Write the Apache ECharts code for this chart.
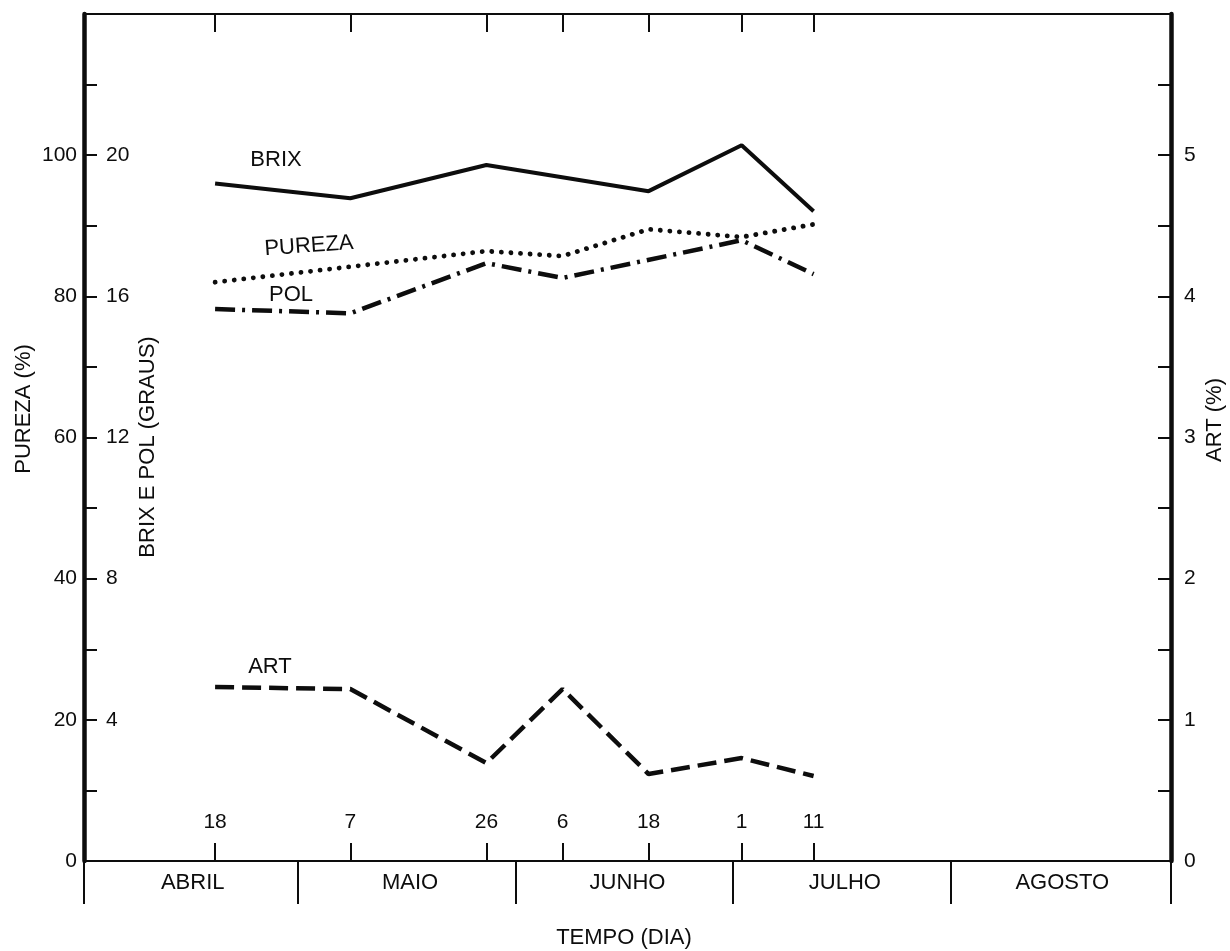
<!DOCTYPE html>
<html><head><meta charset="utf-8">
<script src="https://cdn.jsdelivr.net/npm/echarts@6/dist/echarts.min.js"></script>
<style>html,body{margin:0;padding:0;background:#fff}#c{width:1230px;height:951px}</style>
</head><body><div id="c"></div>
<script>
// ---- data ----
const months = ['ABRIL', 'MAIO', 'JUNHO', 'JULHO', 'AGOSTO'];
const monthBounds = [0, 0.985, 1.985, 2.985, 3.985, 5];
const monthCenters = [0.5, 1.5, 2.5, 3.5, 4.5];
const dayLabels = ['18', '7', '26', '6', '18', '1', '11'];
// sampling dates, in months elapsed since 1 April (as drawn)
const xPos = [0.603, 1.225, 1.851, 2.201, 2.597, 3.025, 3.356];
const brix   = [19.2, 18.78, 19.72, null, 18.98, 20.28, 18.41];   // graus
const pureza = [82.0, null, 86.4, 85.7, 89.5, 88.4, 90.2];         // %
const pol    = [15.64, 15.52, 16.94, 16.52, null, 17.59, 16.63];   // graus
const art    = [1.232, 1.218, 0.694, 1.218, 0.616, 0.729, 0.602];  // %

const FONT = '"Liberation Sans", Arial, sans-serif';
const FS = 21;
const FS2 = 22;
const INK = '#0d0d0d';

function pairs(vals) {
  const out = [];
  vals.forEach((v, i) => { if (v !== null) out.push([xPos[i], v]); });
  return out;
}
function nearest(arr, v) {
  let best = 0, d = Infinity;
  arr.forEach((p, i) => { if (Math.abs(p - v) < d) { d = Math.abs(p - v); best = i; } });
  return best;
}

const chart = echarts.init(document.getElementById('c'), null, { renderer: 'canvas' });
const txt = { fontFamily: FONT, fontSize: FS, color: INK };
const G = { left: 84, right: 59, top: 14, bottom: 90 };

const option = {
  backgroundColor: '#fff',
  animation: false,
  grid: [Object.assign({}, G), Object.assign({}, G)],
  xAxis: [
    { // months (bottom)
      gridIndex: 0, type: 'value', min: 0, max: 5, position: 'bottom',
      axisLine: { show: true, onZero: false, lineStyle: { color: INK, width: 1.8 } },
      axisTick: { show: true, inside: false, length: 43, customValues: monthBounds, lineStyle: { color: INK, width: 2 } },
      axisLabel: Object.assign({ margin: 11, customValues: monthCenters, formatter: v => months[nearest(monthCenters, v)] }, txt, { fontSize: FS2 }),
      splitLine: { show: false }
    },
    { // top frame with day ticks
      gridIndex: 0, type: 'value', min: 0, max: 5, position: 'top',
      axisLine: { show: true, onZero: false, lineStyle: { color: INK, width: 1.8 } },
      axisTick: { show: true, inside: true, length: 18, customValues: xPos, lineStyle: { color: INK, width: 2 } },
      axisLabel: { show: false },
      splitLine: { show: false }
    },
    { // sampling days (bottom, inside) on overlay grid
      gridIndex: 1, type: 'value', min: 0, max: 5, position: 'bottom',
      axisLine: { show: false, onZero: false },
      axisTick: { show: true, inside: true, length: 18, customValues: xPos, lineStyle: { color: INK, width: 2 } },
      axisLabel: Object.assign({ show: true, inside: true, margin: 28, customValues: xPos, formatter: v => dayLabels[nearest(xPos, v)] }, txt),
      splitLine: { show: false }
    }
  ],
  yAxis: [
    { // PUREZA
      gridIndex: 0, type: 'value', min: 0, max: 120, interval: 10, position: 'left',
      axisLine: { show: true, onZero: false, lineStyle: { color: INK, width: 4.5 } },
      axisTick: { show: true, inside: true, length: 13, lineStyle: { color: INK, width: 2 } },
      axisLabel: Object.assign({ margin: 7, formatter: v => (v % 20 === 0 && v <= 100) ? String(v) : '' }, txt),
      splitLine: { show: false }
    },
    { // BRIX e POL
      gridIndex: 0, type: 'value', min: 0, max: 24, interval: 4, position: 'left',
      axisLine: { show: false, onZero: false }, axisTick: { show: false },
      axisLabel: Object.assign({ inside: true, margin: 22, formatter: v => (v > 0 && v <= 20) ? String(v) : '' }, txt),
      splitLine: { show: false }
    },
    { // ART
      gridIndex: 0, type: 'value', min: 0, max: 6, interval: 0.5, position: 'right',
      axisLine: { show: true, onZero: false, lineStyle: { color: INK, width: 4.5 } },
      axisTick: { show: true, inside: true, length: 13, lineStyle: { color: INK, width: 2 } },
      axisLabel: Object.assign({ margin: 13, formatter: v => (Number.isInteger(v) && v <= 5) ? String(v) : '' }, txt),
      splitLine: { show: false }
    },
    { // overlay grid helper (hidden)
      gridIndex: 1, type: 'value', min: 0, max: 1, show: false
    }
  ],
  series: [
    { name: 'BRIX', type: 'line', xAxisIndex: 0, yAxisIndex: 1, data: pairs(brix),
      showSymbol: false, lineStyle: { color: INK, width: 4, type: 'solid' } },
    { name: 'PUREZA', type: 'line', xAxisIndex: 0, yAxisIndex: 0, data: pairs(pureza),
      showSymbol: false, lineStyle: { color: INK, width: 4.8, type: [0.1, 9.5], cap: 'round' } },
    { name: 'POL', type: 'line', xAxisIndex: 0, yAxisIndex: 1, data: pairs(pol),
      showSymbol: false, lineStyle: { color: INK, width: 4.5, type: [20, 7, 3, 7], cap: 'butt' } },
    { name: 'ART', type: 'line', xAxisIndex: 0, yAxisIndex: 2, data: pairs(art),
      showSymbol: false, lineStyle: { color: INK, width: 4.5, type: [19, 8], cap: 'butt' } }
  ],
  graphic: []
};

function t(text, x, y, rot) {
  return { type: 'text', x: x, y: y, rotation: rot || 0, silent: true,
    style: { text: text, fill: INK, font: FS2 + 'px ' + FONT,
      align: 'center', verticalAlign: 'middle', textAlign: 'center', textVerticalAlign: 'middle' } };
}
option.graphic = [
  t('PUREZA (%)', 24, 409, Math.PI / 2),
  t('BRIX E POL (GRAUS)', 148, 447, Math.PI / 2),
  t('ART (%)', 1215, 420, Math.PI / 2),
  t('TEMPO (DIA)', 624, 938),
  t('BRIX', 276, 160),
  t('PUREZA', 309, 246, 0.07),
  t('POL', 291, 295),
  t('ART', 270, 667)
];

chart.setOption(option);
</script>
</body></html>
